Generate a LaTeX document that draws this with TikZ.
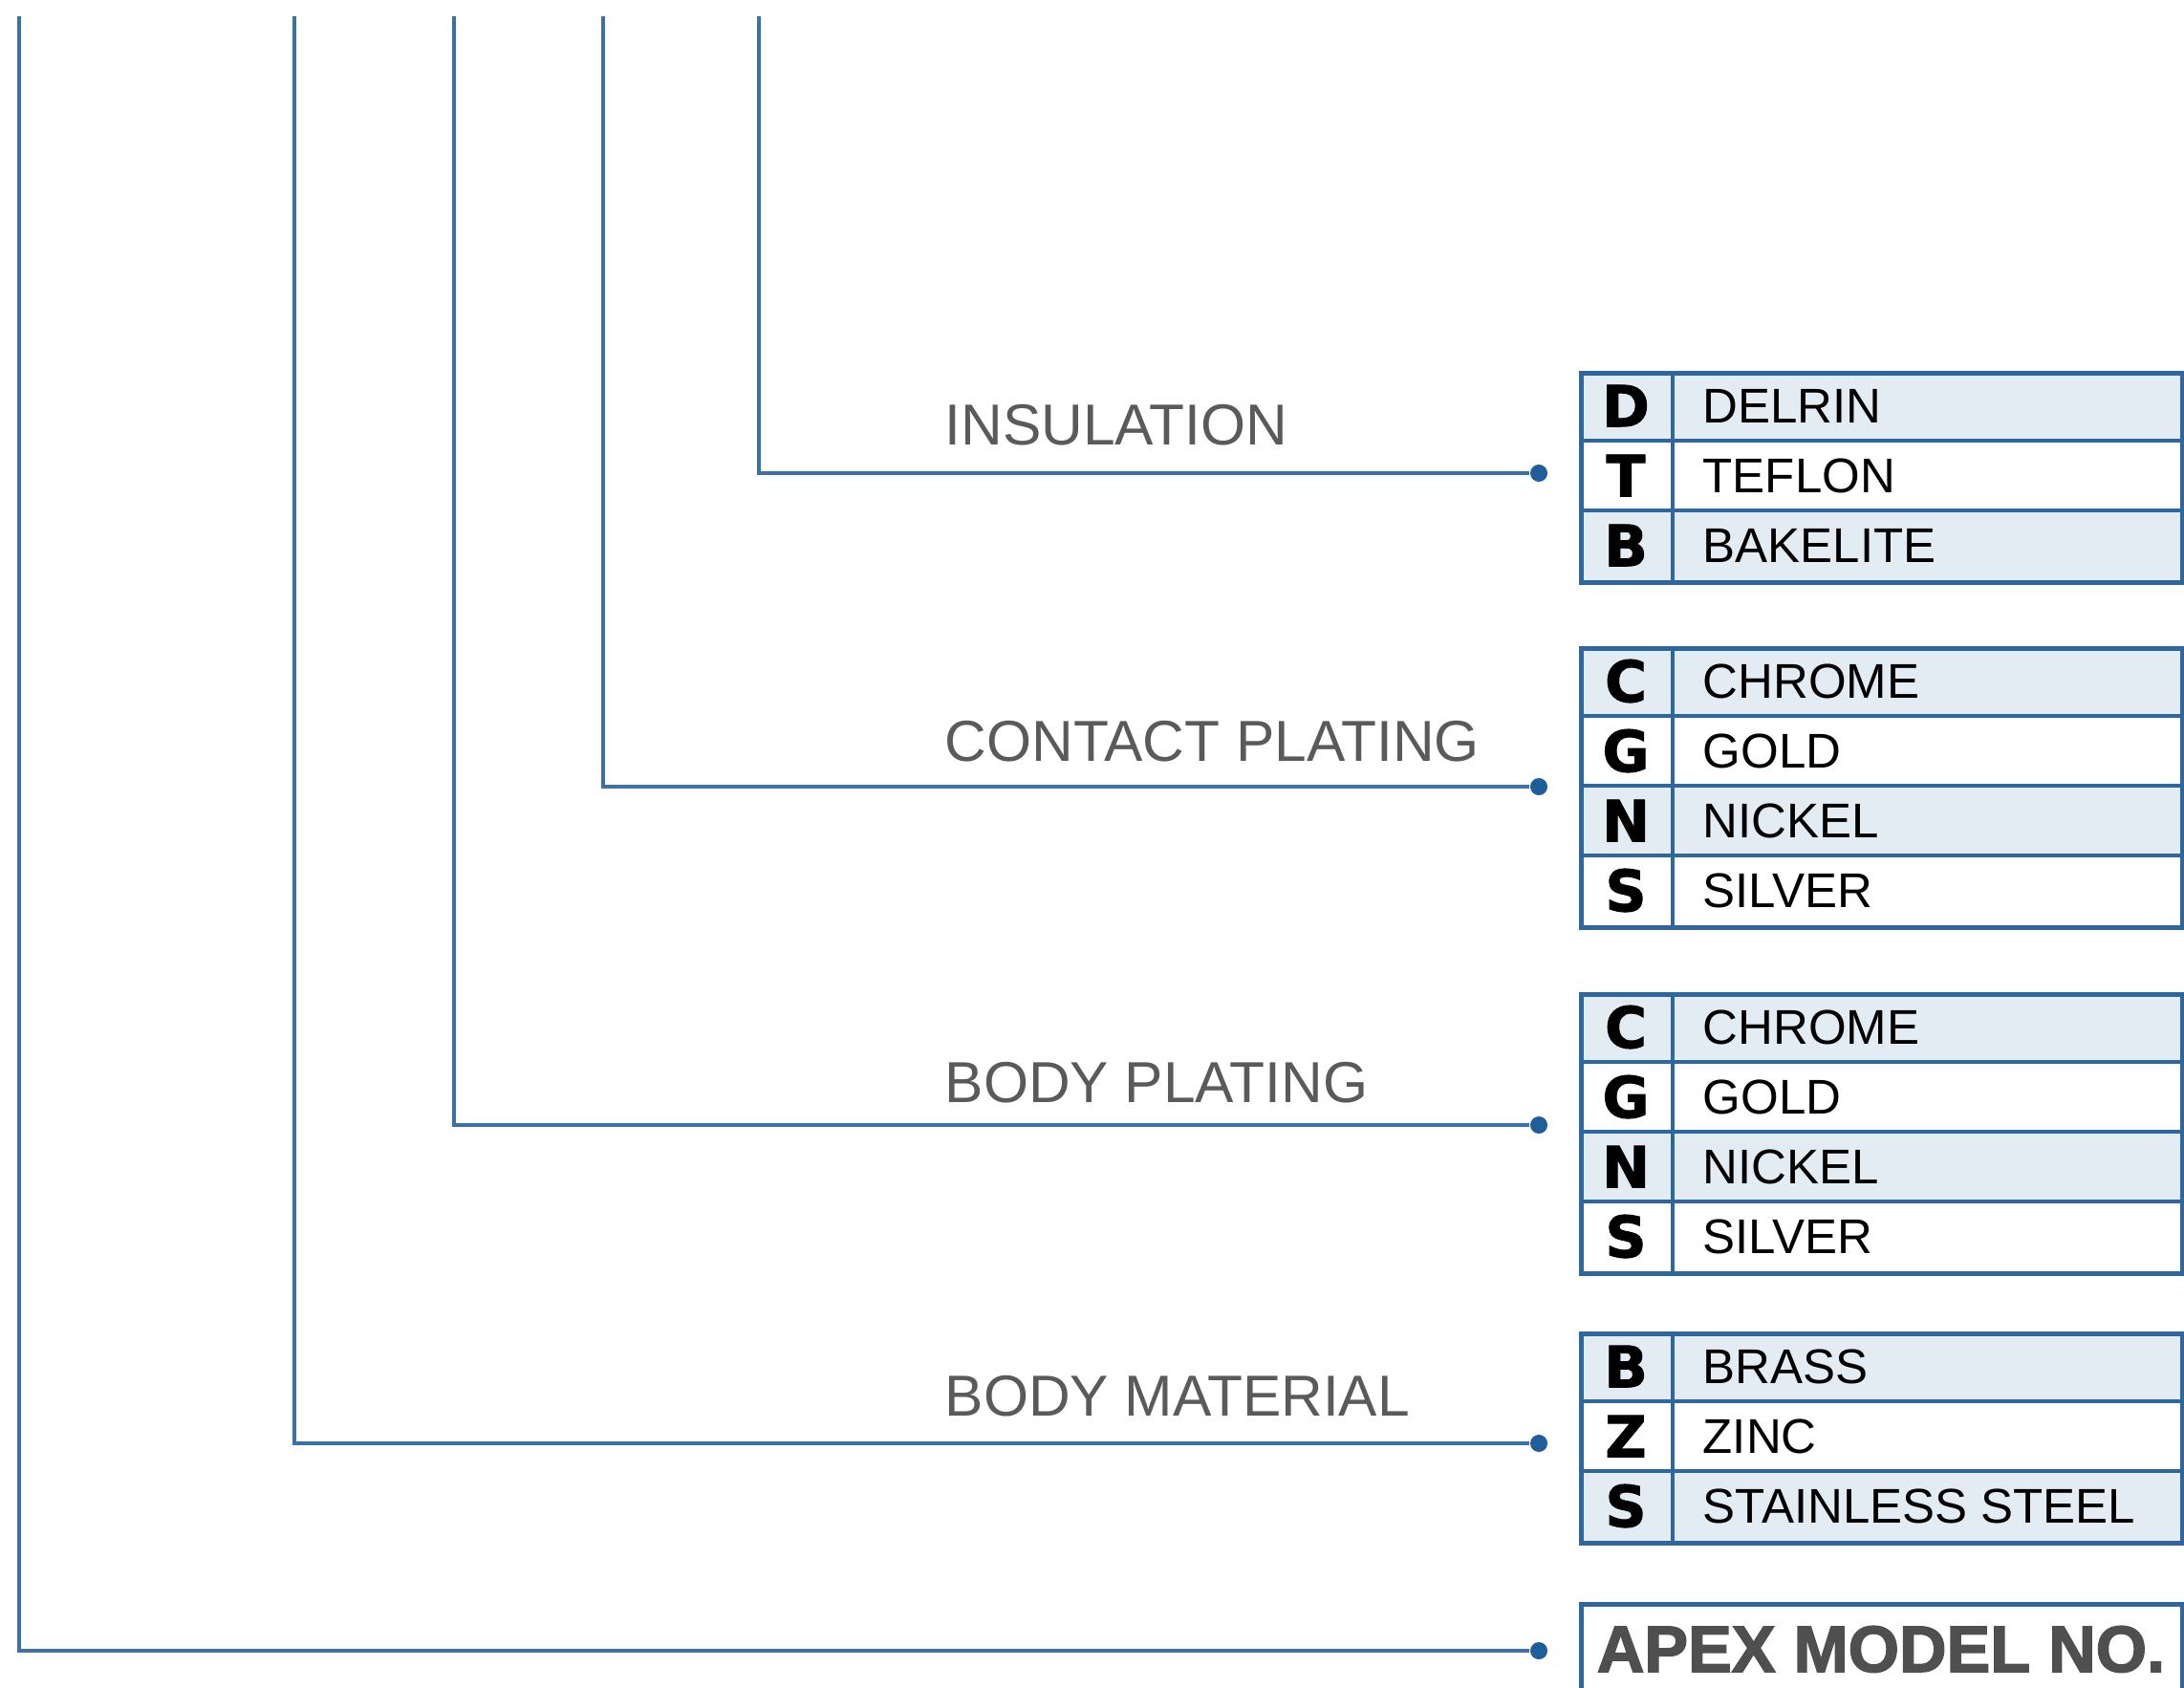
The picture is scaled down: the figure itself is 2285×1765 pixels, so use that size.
\documentclass[tikz,border=0pt]{standalone}
\usepackage{fontspec}
\setmainfont{Liberation Sans}
\newfontfamily\codefont{DejaVu Sans Bold}[FakeBold=1.6]
\newfontfamily\apexfont{Liberation Sans Bold}[FakeBold=2.2]
\definecolor{lineblue}{HTML}{3A72A8}
\definecolor{dotblue}{HTML}{1F5E9A}
\definecolor{boxblue}{HTML}{2E67A0}
\definecolor{shade}{HTML}{E3EBF3}
\definecolor{labelgray}{HTML}{5A5A5A}
\definecolor{apexgray}{HTML}{4F4F4F}
\tikzset{
  x=0.01cm, y=-0.01cm,
  conn/.style={draw=lineblue, line width=1pt},
  dotnode/.style={circle, fill=dotblue, inner sep=0pt, minimum size=0.18cm},
  grouplabel/.style={anchor=base west, inner sep=0pt, text=labelgray, font=\fontsize{17.2}{20}\selectfont},
  codestyle/.style={anchor=center, inner sep=0pt, font=\codefont\fontsize{17}{20}\selectfont},
  itemstyle/.style={anchor=base west, inner sep=0pt, font=\fontsize{14.5}{17}\selectfont},
  tablebox/.style={draw=boxblue, line width=1.3pt, anchor=north west, minimum width=6.29cm, inner sep=0pt},
  rowline/.style={draw=boxblue, line width=0.9pt},
}
\newcommand\optrow[5]{%
  \path[fill=#3] (1652,#2) rectangle (2281,{#2+73});
  \node[codestyle] (#1c) at (1701,{#2+36.5}) {#4};
  \node[itemstyle] (#1t) at (1781,{#2+54.5}) {#5};
}
\begin{document}
\begin{tikzpicture}
\useasboundingbox (0,0) rectangle (2285,1765);
\clip (0,0) rectangle (2285,1765);

% ---------- table 1: insulation
\optrow{ta}{388}{shade}{D}{DELRIN}
\optrow{tb}{461}{white}{T}{TEFLON}
\optrow{tc}{534}{shade}{B}{BAKELITE}
\draw[rowline] (1652,461) -- (2281,461) (1652,534) -- (2281,534) (1750,388) -- (1750,607);
\node[tablebox, minimum height=2.19cm] (tab1) at (1652,388) {};

% ---------- table 2: contact plating
\optrow{ua}{676}{shade}{C}{CHROME}
\optrow{ub}{749}{white}{G}{GOLD}
\optrow{uc}{822}{shade}{N}{NICKEL}
\optrow{ud}{895}{white}{S}{SILVER}
\draw[rowline] (1652,749) -- (2281,749) (1652,822) -- (2281,822) (1652,895) -- (2281,895) (1750,676) -- (1750,968);
\node[tablebox, minimum height=2.92cm] (tab2) at (1652,676) {};

% ---------- table 3: body plating
\optrow{va}{1038}{shade}{C}{CHROME}
\optrow{vb}{1111}{white}{G}{GOLD}
\optrow{vc}{1184}{shade}{N}{NICKEL}
\optrow{vd}{1257}{white}{S}{SILVER}
\draw[rowline] (1652,1111) -- (2281,1111) (1652,1184) -- (2281,1184) (1652,1257) -- (2281,1257) (1750,1038) -- (1750,1330);
\node[tablebox, minimum height=2.92cm] (tab3) at (1652,1038) {};

% ---------- table 4: body material
\optrow{wa}{1393}{shade}{B}{BRASS}
\optrow{wb}{1466}{white}{Z}{ZINC}
\optrow{wc}{1539}{shade}{S}{STAINLESS STEEL}
\draw[rowline] (1652,1466) -- (2281,1466) (1652,1539) -- (2281,1539) (1750,1393) -- (1750,1612);
\node[tablebox, minimum height=2.19cm] (tab4) at (1652,1393) {};

% ---------- apex box
\node[tablebox, minimum height=1.5cm] (apex) at (1652,1676) {};
\node[anchor=base, inner sep=0pt, text=apexgray, font=\apexfont\fontsize{19.5}{22}\selectfont] (apextext) at (1968,1749) {APEX MODEL NO.};

% ---------- dots
\node[dotnode] (d1) at (1610,495) {};
\node[dotnode] (d2) at (1610,823) {};
\node[dotnode] (d3) at (1610,1177) {};
\node[dotnode] (d4) at (1610,1510) {};
\node[dotnode] (d5) at (1610,1727) {};

% ---------- vertical tops
\coordinate (v1) at (794,17);
\coordinate (v2) at (631,17);
\coordinate (v3) at (475,17);
\coordinate (v4) at (308,17);
\coordinate (v5) at (20,17);

\draw[conn] (v1) |- (d1);
\draw[conn] (v2) |- (d2);
\draw[conn] (v3) |- (d3);
\draw[conn] (v4) |- (d4);
\draw[conn] (v5) |- (d5);

% ---------- labels
\node[grouplabel] (l1) at (988,465) {INSULATION};
\node[grouplabel] (l2) at (988,796) {CONTACT PLATING};
\node[grouplabel] (l3) at (988,1153) {BODY PLATING};
\node[grouplabel] (l4) at (988,1481) {BODY MATERIAL};
\end{tikzpicture}
\end{document}
